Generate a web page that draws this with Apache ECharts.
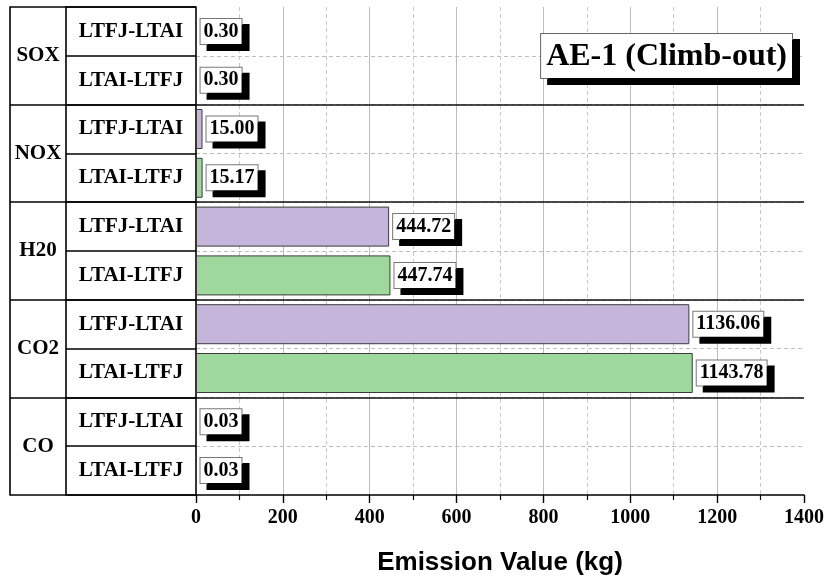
<!DOCTYPE html>
<html>
<head>
<meta charset="utf-8">
<script src="https://cdn.jsdelivr.net/npm/echarts@6/dist/echarts.min.js"></script>
<style>
  html, body { margin: 0; padding: 0; background: #fff; }
  #chart { width: 827px; height: 581px; }
</style>
</head>
<body>
<div id="chart"></div>
<script>
// Pollutant groups, top to bottom
const groups = ['SOX', 'NOX', 'H20', 'CO2', 'CO'];
// Route directions inside each group
const routes = ['LTFJ-LTAI', 'LTAI-LTFJ'];
// Emission values (kg) per route, in group order
const ltfjLtai = [0.30, 15.00, 444.72, 1136.06, 0.03];
const ltaiLtfj = [0.30, 15.17, 447.74, 1143.78, 0.03];
// Value axis ticks
const xTicks = [0, 200, 400, 600, 800, 1000, 1200, 1400];

const routeValues = [ltfjLtai, ltaiLtfj];
const routeColors = ['#c5b5da', '#9ed89d'];

// One row per group/route pair
const rowKeys = [];
const barData = [];
groups.forEach((g, gi) => {
  routes.forEach((r, ri) => {
    rowKeys.push(g + '|' + r);
    barData.push({ value: routeValues[ri][gi], itemStyle: { color: routeColors[ri] } });
  });
});

const serif = '"Liberation Serif", "Times New Roman", serif';
const tableLine = { color: '#000', width: 1.6 };

const chart = echarts.init(document.getElementById('chart'), null, { renderer: 'canvas' });
chart.setOption({
  animation: false,
  graphic: [{
    // boxed chart caption with a hard drop shadow
    type: 'text',
    right: 34,
    top: 33,
    z: 100,
    style: {
      text: 'AE-1 (Climb-out)',
      font: 'bold 32px ' + serif,
      fill: '#000',
      backgroundColor: '#fff',
      borderColor: '#666',
      borderWidth: 1,
      padding: [7, 5, 5, 5],
      shadowColor: '#000',
      shadowBlur: 0,
      shadowOffsetX: 7,
      shadowOffsetY: 6
    }
  }],
  grid: { left: 196, right: 22, top: 7, bottom: 83 },
  xAxis: {
    type: 'value',
    min: xTicks[0],
    max: xTicks[xTicks.length - 1],
    interval: 200,
    name: 'Emission Value (kg)',
    nameLocation: 'middle',
    nameGap: 55,
    nameTextStyle: { fontFamily: '"Liberation Sans", Arial, sans-serif', fontWeight: 'bold', fontSize: 26, color: '#000' },
    axisLine: { show: true, lineStyle: { color: '#000', width: 1.6 } },
    axisTick: { show: true, length: 8, lineStyle: { color: '#000', width: 1.4 } },
    minorTick: { show: true, splitNumber: 2, length: 5, lineStyle: { color: '#000', width: 1.2 } },
    axisLabel: {
      margin: 13, fontFamily: serif, fontWeight: 'bold', fontSize: 20, color: '#000',
      formatter: v => String(v)
    },
    splitLine: { show: true, showMinLine: false, showMaxLine: false, lineStyle: { color: '#bcbcbc', width: 1 } },
    minorSplitLine: { show: true, lineStyle: { color: '#c8c8c8', width: 1, type: [4, 3] } }
  },
  yAxis: [
    {
      // route rows
      type: 'category',
      data: rowKeys,
      inverse: true,
      position: 'left',
      axisLine: { show: true, lineStyle: tableLine },
      axisTick: { show: true, interval: 0, length: 130, lineStyle: tableLine },
      axisLabel: {
        interval: 0, margin: 65, align: 'center',
        fontFamily: serif, fontWeight: 'bold', fontSize: 21, color: '#000',
        formatter: v => v.split('|')[1]
      },
      splitLine: { show: true, interval: 0, showMinLine: false, showMaxLine: false, lineStyle: { color: '#bdbdbd', width: 1, type: [4, 3] } }
    },
    {
      // pollutant groups
      type: 'category',
      data: groups,
      inverse: true,
      position: 'left',
      axisLine: { show: false },
      axisTick: { show: true, interval: 0, length: 186, lineStyle: tableLine },
      axisLabel: {
        interval: 0, margin: 158, align: 'center',
        fontFamily: serif, fontWeight: 'bold', fontSize: 21, color: '#000'
      },
      splitLine: { show: true, interval: 0, showMinLine: false, showMaxLine: false, lineStyle: { color: '#111', width: 1.5 } },
      z: 3
    },
    {
      // divider between group and route columns
      type: 'value', position: 'left', offset: 130,
      axisLine: { show: true, lineStyle: tableLine },
      axisTick: { show: false }, axisLabel: { show: false }, splitLine: { show: false }
    },
    {
      // outer left edge of the table
      type: 'value', position: 'left', offset: 186,
      axisLine: { show: true, lineStyle: tableLine },
      axisTick: { show: false }, axisLabel: { show: false }, splitLine: { show: false }
    }
  ],
  series: [{
    type: 'bar',
    yAxisIndex: 0,
    data: barData,
    barCategoryGap: '18%',
    itemStyle: { borderColor: '#3a3a3a', borderWidth: 1 },
    label: {
      show: true,
      position: 'right',
      distance: 4,
      formatter: p => p.value.toFixed(2),
      fontFamily: serif, fontWeight: 'bold', fontSize: 20, color: '#000',
      backgroundColor: '#fff',
      borderColor: '#777',
      borderWidth: 1,
      padding: [3, 3, 2, 3],
      shadowColor: '#000',
      shadowBlur: 0,
      shadowOffsetX: 7,
      shadowOffsetY: 6
    },
    z: 4
  }]
});
</script>
</body>
</html>
